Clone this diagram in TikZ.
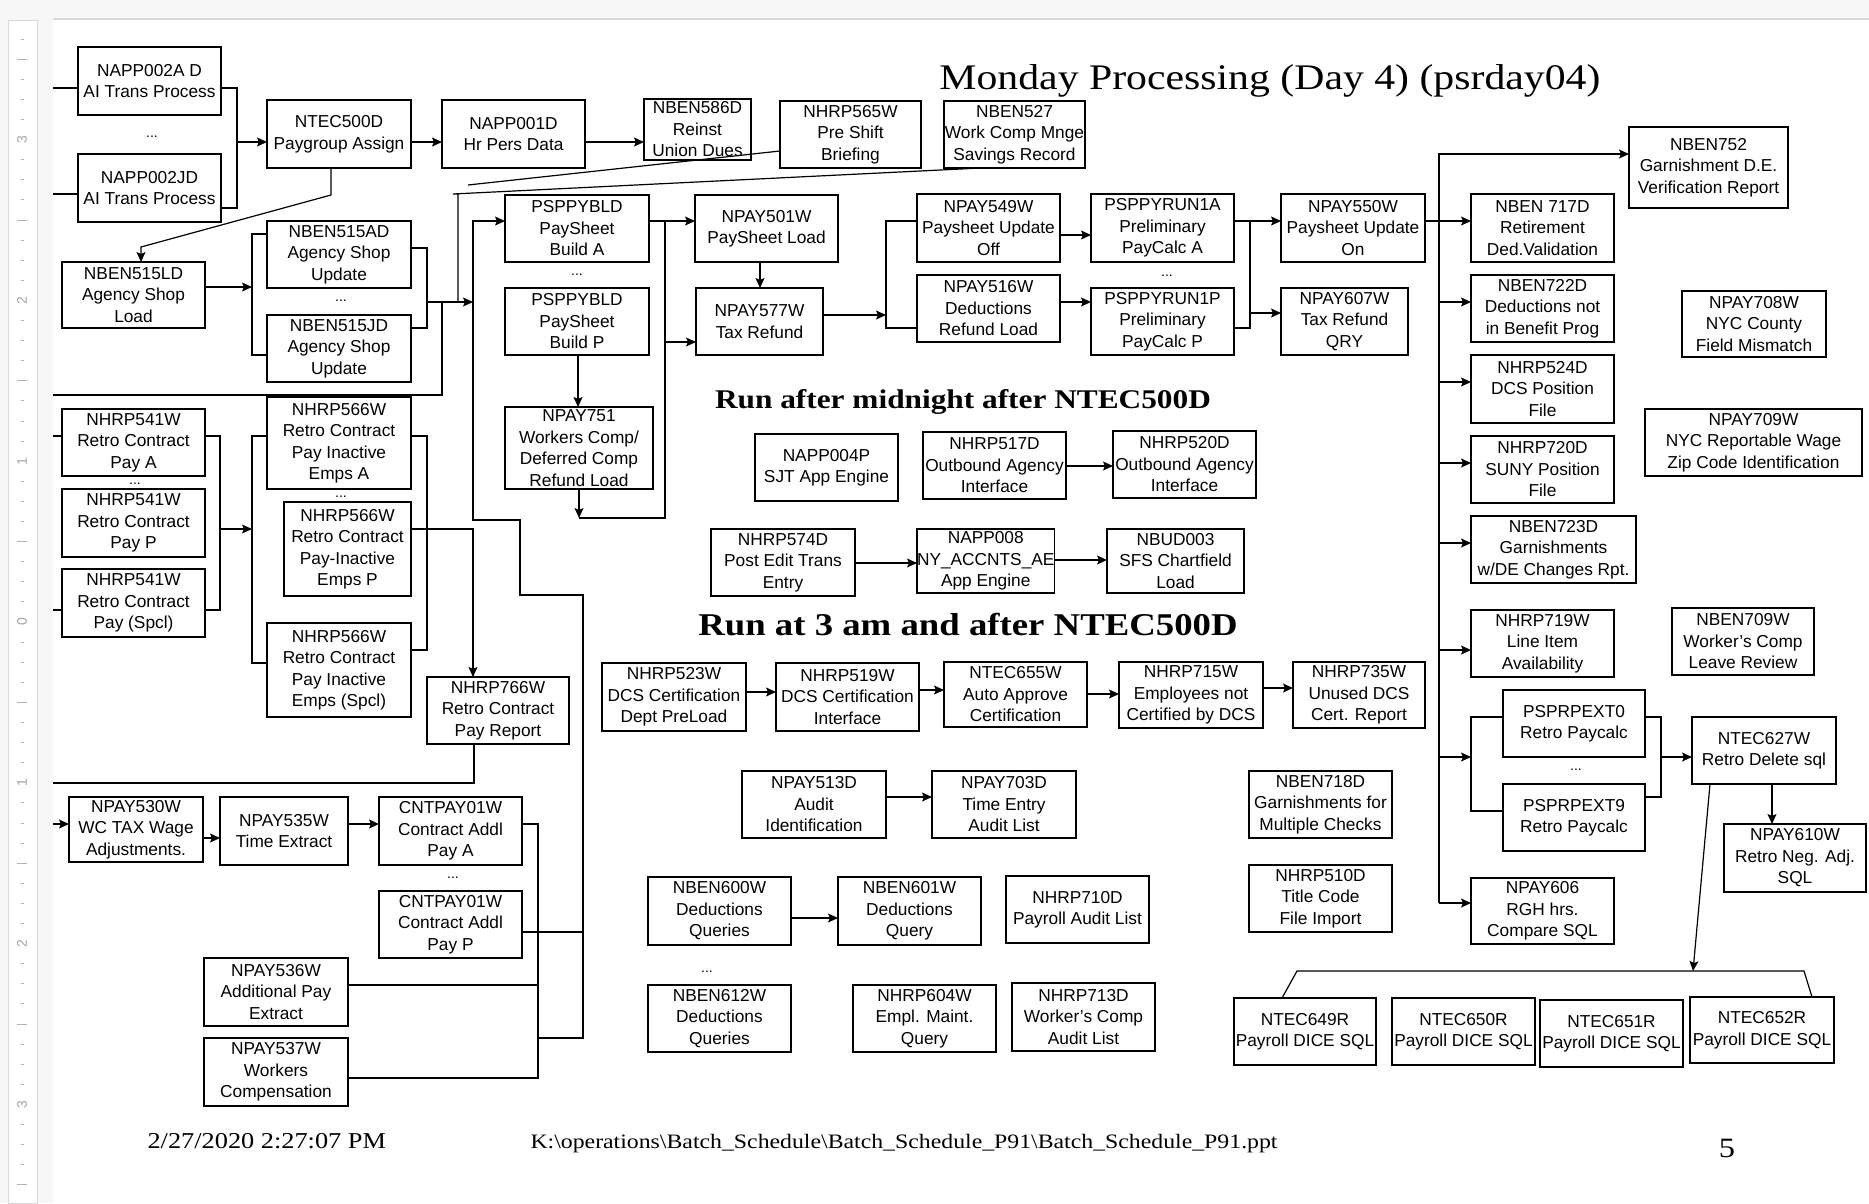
\documentclass[tikz,border=0pt]{standalone}
\usepackage{fontspec}
\setmainfont{Liberation Sans}
\newfontfamily\slidefont{Liberation Serif}[FakeStretch=1.16]
\usetikzlibrary{arrows.meta}
\newcommand{\jobfont}{\fontsize{17.3}{21.5}\selectfont}
\tikzset{
  job/.style 2 args={draw, line width=1.3pt, anchor=north west, align=center,
    inner sep=0pt, outer sep=0pt, minimum width=#1pt, minimum height=#2pt, font=\jobfont},
  more/.style={font=\fontsize{14}{14}\selectfont, inner sep=0pt},
  link/.style={line width=1.2pt},
}
\begin{document}
\begin{tikzpicture}[x=1pt, y=-1pt, >={Stealth[length=10pt,width=9pt,inset=2pt]}, line join=miter]
\useasboundingbox (0,0) rectangle (1869,1203);
% page and ruler
\fill[white] (0,0) rectangle (1869,1203);
\fill[gray!6] (0,0) rectangle (1869,18);
\fill[gray!6] (0,0) rectangle (53,1203);
\draw[gray!30, line width=2pt] (53,19) -- (1869,19);
\filldraw[fill=white, draw=gray!30] (8,20) rectangle (37,1203);
\foreach \j in {-29,...,28}{
  \pgfmathtruncatemacro\m{mod(\j+64,8)}
  \pgfmathsetmacro\yy{622+20.1*\j}
  \ifnum\m=0
    \pgfmathtruncatemacro\n{abs(\j)/8}
    \node[rotate=90, text=gray!70, font=\fontsize{14}{14}\selectfont] at (22,\yy) {\n};
  \else\ifnum\m=4
    \draw[gray!60, line width=1pt] (17,\yy) -- (27,\yy);
  \else
    \draw[gray!60, line width=1pt] (20.5,\yy) -- (23.5,\yy);
  \fi\fi
}
\coordinate (lft) at (53,0);

% titles
\node[font=\slidefont\fontsize{36}{40}\selectfont, anchor=base] (title) at (1270,89) {Monday Processing (Day 4) (psrday04)};
\node[font=\slidefont\bfseries\fontsize{27}{30}\selectfont, anchor=base] (night) at (963,408) {Run after midnight after NTEC500D};
\node[font=\slidefont\bfseries\fontsize{31.7}{34}\selectfont, anchor=base] (three) at (968,635) {Run at 3 am and after NTEC500D};

% upper left
\node[job={143}{68}] (napp002a) at (78,47) {NAPP002A D\\AI Trans Process};
\node[more] (dots1) at (152,137) {...};
\node[job={143}{68}] (napp002j) at (78,154) {NAPP002JD\\AI Trans Process};
\node[job={144}{68}] (ntec500d) at (267,100) {NTEC500D\\Paygroup Assign};
\node[job={143}{68}] (napp001d) at (442,100) {NAPP001D\\Hr Pers Data};
\node[job={107}{61}] (nben586d) at (644,99) {NBEN586D\\Reinst\\Union Dues};
\node[job={141}{67}] (nhrp565w) at (780,101) {NHRP565W\\Pre Shift\\Briefing};
\node[job={141}{67}] (nben527) at (944,101) {NBEN527\\Work Comp Mnge\\Savings Record};
\node[job={143}{66}] (nben515ld) at (62,262) {NBEN515LD\\Agency Shop\\Load};
\node[job={144}{67}] (nben515ad) at (267,221) {NBEN515AD\\Agency Shop\\Update};
\node[more] (dots2) at (341,301) {...};
\node[job={144}{67}] (nben515jd) at (267,315) {NBEN515JD\\Agency Shop\\Update};

% paysheet build
\node[job={144}{67}] (pblda) at (505,195) {PSPPYBLD\\PaySheet\\Build A};
\node[more] (dots3) at (577,275) {...};
\node[job={144}{67}] (pbldp) at (505,288) {PSPPYBLD\\PaySheet\\Build P};
\node[job={148}{82}] (npay751) at (505,407) {NPAY751\\Workers Comp/\\Deferred Comp\\Refund Load};
\node[job={143}{67}] (npay501w) at (695,195) {NPAY501W\\PaySheet Load};
\node[job={127}{67}] (npay577w) at (696,288) {NPAY577W\\Tax Refund};
\node[job={143}{68}] (npay549w) at (917,194) {NPAY549W\\Paysheet Update\\Off};
\node[job={143}{67}] (npay516w) at (917,275) {NPAY516W\\Deductions\\Refund Load};
\node[job={143}{68}] (prun1a) at (1091,194) {PSPPYRUN1A\\Preliminary\\PayCalc A};
\node[more] (dots4) at (1167,276) {...};
\node[job={143}{67}] (prun1p) at (1091,288) {PSPPYRUN1P\\Preliminary\\PayCalc P};
\node[job={144}{68}] (npay550w) at (1281,194) {NPAY550W\\Paysheet Update\\On};
\node[job={127}{67}] (npay607w) at (1281,288) {NPAY607W\\Tax Refund\\QRY};

% right column
\node[job={159}{81}] (nben752) at (1629,127) {NBEN752\\Garnishment D.E.\\Verification Report};
\node[job={143}{68}] (nben717d) at (1471,194) {NBEN 717D\\Retirement\\Ded.Validation};
\node[job={143}{67}] (nben722d) at (1471,275) {NBEN722D\\Deductions not\\in Benefit Prog};
\node[job={144}{66}] (npay708w) at (1682,291) {NPAY708W\\NYC County\\Field Mismatch};
\node[job={143}{68}] (nhrp524d) at (1471,355) {NHRP524D\\DCS Position\\File};
\node[job={143}{67}] (nhrp720d) at (1471,436) {NHRP720D\\SUNY Position\\File};
\node[job={165}{67}] (nben723d) at (1471,516) {NBEN723D\\Garnishments\\w/DE Changes Rpt.};
\node[job={217}{67}] (npay709w) at (1645,409) {NPAY709W\\NYC Reportable Wage\\Zip Code Identification};
\node[job={143}{67}] (nhrp719w) at (1471,610) {NHRP719W\\Line Item\\Availability};
\node[job={142}{67}] (nben709w) at (1672,608) {NBEN709W\\Worker's Comp\\Leave Review};
\node[job={142}{67}] (psrpa) at (1503,690) {PSPRPEXT0\\Retro Paycalc};
\node[more] (dots5) at (1576,770) {...};
\node[job={142}{67}] (psrpb) at (1503,784) {PSPRPEXT9\\Retro Paycalc};
\node[job={144}{67}] (ntec627w) at (1692,717) {NTEC627W\\Retro Delete sql};
\node[job={142}{68}] (npay610w) at (1724,824) {NPAY610W\\Retro Neg. Adj.\\SQL};
\node[job={143}{66}] (npay606) at (1471,878) {NPAY606\\RGH hrs.\\Compare SQL};
\node[job={142}{67}] (ntec649r) at (1234,998) {NTEC649R\\Payroll DICE SQL};
\node[job={143}{67}] (ntec650r) at (1392,998) {NTEC650R\\Payroll DICE SQL};
\node[job={143}{67}] (ntec651r) at (1540,1000) {NTEC651R\\Payroll DICE SQL};
\node[job={144}{66}] (ntec652r) at (1690,997) {NTEC652R\\Payroll DICE SQL};
\node[job={132}{66}] (nhrp735w) at (1293,662) {NHRP735W\\Unused DCS\\Cert. Report};
\node[job={143}{67}] (nben718d) at (1249,771) {NBEN718D\\Garnishments for\\Multiple Checks};
\node[job={143}{67}] (nhrp510d) at (1249,865) {NHRP510D\\Title Code\\File Import};

% after midnight
\node[job={143}{67}] (napp004p) at (755,434) {NAPP004P\\SJT App Engine};
\node[job={143}{67}] (nhrp517d) at (923,432) {NHRP517D\\Outbound Agency\\Interface};
\node[job={143}{67}] (nhrp520d) at (1113,431) {NHRP520D\\Outbound Agency\\Interface};
\node[job={144}{67}] (nhrp574d) at (711,529) {NHRP574D\\Post Edit Trans\\Entry};
\node[job={137}{64}] (napp008) at (917,529) {NAPP008\\NY\_ACCNTS\_AE\\App Engine};
\node[job={137}{64}] (nbud003) at (1107,529) {NBUD003\\SFS Chartfield\\Load};

% 3 am
\node[job={144}{68}] (nhrp523w) at (602,663) {NHRP523W\\DCS Certification\\Dept PreLoad};
\node[job={143}{68}] (nhrp519w) at (776,663) {NHRP519W\\DCS Certification\\Interface};
\node[job={143}{65}] (ntec655w) at (944,662) {NTEC655W\\Auto Approve\\Certification};
\node[job={144}{66}] (nhrp715w) at (1119,662) {NHRP715W\\Employees not\\Certified by DCS};
\node[job={144}{67}] (npay513d) at (742,771) {NPAY513D\\Audit\\Identification};
\node[job={144}{67}] (npay703d) at (932,771) {NPAY703D\\Time Entry\\Audit List};
\node[job={143}{68}] (nben600w) at (648,877) {NBEN600W\\Deductions\\Queries};
\node[job={143}{68}] (nben601w) at (838,877) {NBEN601W\\Deductions\\Query};
\node[job={143}{67}] (nhrp710d) at (1006,876) {NHRP710D\\Payroll Audit List};
\node[more] (dots6) at (707,972) {...};
\node[job={143}{67}] (nben612w) at (648,985) {NBEN612W\\Deductions\\Queries};
\node[job={143}{67}] (nhrp604w) at (853,985) {NHRP604W\\Empl. Maint.\\Query};
\node[job={143}{68}] (nhrp713d) at (1012,983) {NHRP713D\\Worker's Comp\\Audit List};

% retro contract
\node[job={143}{67}] (nhrp541a) at (62,409) {NHRP541W\\Retro Contract\\Pay A};
\node[more] (dots7) at (135,484) {...};
\node[job={143}{68}] (nhrp541p) at (62,489) {NHRP541W\\Retro Contract\\Pay P};
\node[job={143}{68}] (nhrp541s) at (62,569) {NHRP541W\\Retro Contract\\Pay (Spcl)};
\node[job={144}{92}] (nhrp566a) at (267,397) {NHRP566W\\Retro Contract\\Pay Inactive\\Emps A};
\node[more] (dots8) at (341,497) {...};
\node[job={127}{94}] (nhrp566p) at (284,502) {NHRP566W\\Retro Contract\\Pay-Inactive\\Emps P};
\node[job={144}{94}] (nhrp566s) at (267,623) {NHRP566W\\Retro Contract\\Pay Inactive\\Emps (Spcl)};
\node[job={142}{67}] (nhrp766w) at (427,677) {NHRP766W\\Retro Contract\\Pay Report};

% lower left
\node[job={134}{65}] (npay530w) at (69,797) {NPAY530W\\WC TAX Wage\\Adjustments.};
\node[job={128}{68}] (npay535w) at (220,797) {NPAY535W\\Time Extract};
\node[job={143}{68}] (cntpaya) at (379,797) {CNTPAY01W\\Contract Addl\\Pay A};
\node[more] (dots9) at (453,878) {...};
\node[job={143}{67}] (cntpayp) at (379,891) {CNTPAY01W\\Contract Addl\\Pay P};
\node[job={144}{68}] (npay536w) at (204,958) {NPAY536W\\Additional Pay\\Extract};
\node[job={144}{68}] (npay537w) at (204,1038) {NPAY537W\\Workers\\Compensation};

% footer
\node[font=\slidefont\fontsize{22.7}{25}\selectfont, anchor=base west] (stamp) at (144,1148) {2/27/2020 2:27:07 PM};
\node[font=\slidefont\fontsize{20.5}{24}\selectfont, anchor=base west] (file) at (527,1148) {K:\textbackslash operations\textbackslash Batch\_Schedule\textbackslash Batch\_Schedule\_P91\textbackslash Batch\_Schedule\_P91.ppt};
\node[font=\slidefont\fontsize{28}{30}\selectfont, anchor=base] (page) at (1727,1157) {5};

% connectors, top chain
\draw[link] (lft |- 0,88) -- (napp002a.west |- 0,88);
\draw[link] (lft |- 0,194) -- (napp002j.west |- 0,194);
\draw[link,->] (napp002a.east |- 0,88) -| (237,142) -- (ntec500d.west |- 0,142);
\draw[link] (napp002j.east |- 0,208) -| (237,142);
\draw[link,->] (ntec500d.east |- 0,142) -- (napp001d.west |- 0,142);
\draw[link,->] (napp001d.east |- 0,142) -- (nben586d.west |- 0,142);
\draw[link,->] (ntec500d.south -| 331,0) -- (331,195) -- (141,247) -- (nben515ld.north -| 141,0);
\coordinate (b515) at (252,287);
\draw[link,->] (nben515ld.east |- 0,287) -- (b515);
\draw[link] (nben515ad.west |- 0,234) -| (252,355) -- (nben515jd.west |- 0,355);
\draw[link] (nben515ad.east |- 0,248) -| (427,328) -- (nben515jd.east |- 0,328);
\coordinate (busa) at (473,302);
\draw[link,->] (427,302) -- (busa);
\draw[link] (lft |- 0,395) -- (442,395) -- (442,302);
\draw[link] (nhrp565w.west |- 0,151) -- (468,185);
\draw[link] (nben527.south -| 981,0) -- (453,194) -- (458,194) -- (458,302);

% lower feed into build
\draw[link] (cntpaya.east |- 0,824) -| (538,1078) -- (npay537w.east |- 0,1078);
\draw[link] (npay536w.east |- 0,985) -- (538,985);
\draw[link] (cntpayp.east |- 0,932) -- (583,932);
\draw[link,->] (538,1038) -- (583,1038) -- (583,595) -- (520,595) -- (520,520) -- (473,520) -- (473,221) -- (pblda.west |- 0,221);

% paysheet chain
\draw[link,->] (pblda.east |- 0,221) -- (npay501w.west |- 0,221);
\draw[link,->] (pbldp.south -| 578,0) -- (npay751.north -| 578,0);
\draw[link,->] (npay751.south -| 579,0) -- (579,518);
\draw[link] (579,518) -- (665,518) -- (665,221);
\draw[link,->] (665,342) -- (npay577w.west |- 0,342);
\draw[link,->] (npay501w.south -| 760,0) -- (npay577w.north -| 760,0);
\draw[link,->] (npay577w.east |- 0,315) -- (886,315);
\draw[link] (npay549w.west |- 0,221) -| (886,328) -- (npay516w.west |- 0,328);
\draw[link,->] (npay549w.east |- 0,235) -- (prun1a.west |- 0,235);
\draw[link,->] (npay516w.east |- 0,302) -- (prun1p.west |- 0,302);
\draw[link,->] (prun1a.east |- 0,221) -- (npay550w.west |- 0,221);
\draw[link] (prun1p.east |- 0,328) -- (1250,328) -- (1250,221);
\draw[link,->] (1250,313) -- (npay607w.west |- 0,313);

% right bus
\draw[link,->] (npay550w.east |- 0,221) -- (nben717d.west |- 0,221);
\draw[link,->] (1439,903) -- (1439,154) -- (nben752.west |- 0,154);
\foreach \t/\y in {nben722d/302, nhrp524d/382, nhrp720d/463, nben723d/543, nhrp719w/650, npay606/903}
  \draw[link,->] (1439,\y) -- (\t.west |- 0,\y);
\draw[link,->] (1439,757) -- (1471,757);
\draw[link] (psrpa.west |- 0,717) -| (1471,811) -- (psrpb.west |- 0,811);
\draw[link] (psrpa.east |- 0,717) -| (1661,797) -- (psrpb.east |- 0,797);
\draw[link,->] (1661,757) -- (ntec627w.west |- 0,757);
\draw[link,->] (ntec627w.south -| 1772,0) -- (npay610w.north -| 1772,0);
\draw[link,->] (ntec627w.south -| 1710,0) -- (1693,971);
\draw[link] (ntec649r.north -| 1282,0) -- (1297,971) -- (1804,971) -- (ntec652r.north -| 1812,0);

% middle groups
\draw[link,->] (nhrp517d.east |- 0,466) -- (nhrp520d.west |- 0,466);
\draw[link,->] (nhrp574d.east |- 0,563) -- (napp008.west |- 0,563);
\draw[link,->] (napp008.east |- 0,560) -- (nbud003.west |- 0,560);
\draw[link,->] (nhrp523w.east |- 0,692) -- (nhrp519w.west |- 0,692);
\draw[link,->] (nhrp519w.east |- 0,690) -- (ntec655w.west |- 0,690);
\draw[link,->] (ntec655w.east |- 0,694) -- (nhrp715w.west |- 0,694);
\draw[link,->] (nhrp715w.east |- 0,688) -- (nhrp735w.west |- 0,688);
\draw[link,->] (npay513d.east |- 0,797) -- (npay703d.west |- 0,797);
\draw[link,->] (nben600w.east |- 0,918) -- (nben601w.west |- 0,918);

% retro contract
\draw[link] (lft |- 0,436) -- (nhrp541a.west |- 0,436);
\draw[link] (lft |- 0,610) -- (nhrp541s.west |- 0,610);
\draw[link] (nhrp541a.east |- 0,436) -| (220,610) -- (nhrp541s.east |- 0,610);
\draw[link,->] (220,529) -- (252,529);
\draw[link] (nhrp566a.west |- 0,436) -| (252,663) -- (nhrp566s.west |- 0,663);
\draw[link] (nhrp566a.east |- 0,436) -| (427,650) -- (nhrp566s.east |- 0,650);
\draw[link,->] (nhrp566p.east |- 0,529) -- (473,529) -- (nhrp766w.north -| 473,0);
\draw[link] (nhrp766w.south -| 474,0) -- (474,783) -- (lft |- 0,783);
\draw[link,->] (lft |- 0,824) -- (npay530w.west |- 0,824);
\draw[link,->] (npay530w.east |- 0,838) -- (npay535w.west |- 0,838);
\draw[link,->] (npay535w.east |- 0,824) -- (cntpaya.west |- 0,824);
\end{tikzpicture}
\end{document}
